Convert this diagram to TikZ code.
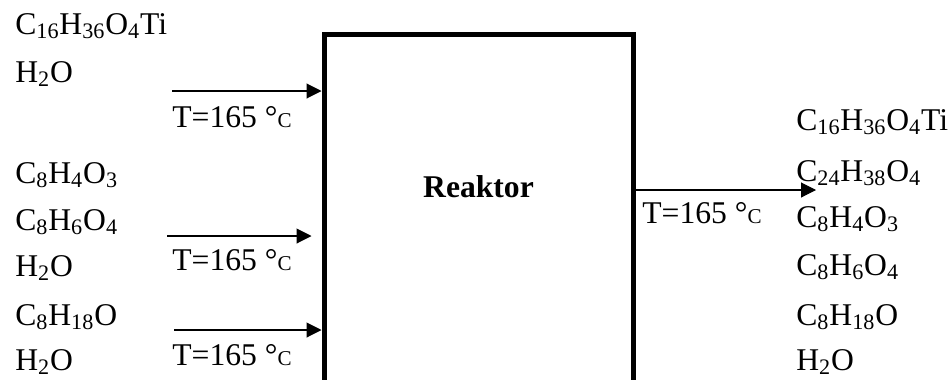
\documentclass[tikz,border=0pt]{standalone}
\usepackage{fontspec}
\setmainfont{Liberation Serif}
\usetikzlibrary{positioning}
\usetikzlibrary{arrows.meta}

\newcommand{\degC}{\textdegree{\fontsize{12}{12}\selectfont C}}

\begin{document}
\begin{tikzpicture}[
  stoff/.style={anchor=base west, inner sep=0pt, font=\fontsize{18}{21}\selectfont},
  temp/.style={anchor=base west, inner sep=0pt, font=\fontsize{18}{21}\selectfont},
  reaktor/.style={draw, line width=0.1cm, minimum width=6.18cm, minimum height=8cm, anchor=north},
  strom/.style={-{Triangle[length=0.3cm, width=0.3cm]}, line width=0.6pt}
]
\useasboundingbox (0,0) rectangle (19,7.58);

% Reaktor (open at the bottom, cut by the picture edge)
\node[reaktor] (R) at (9.57,6.95) {};
\node[anchor=base, inner sep=0pt, font=\fontsize{18}{21}\selectfont\bfseries] (lbl) at (9.57,3.64) {Reaktor};

% Feed 1
\node[stoff] (f1a) at (0.30,6.90) {C\textsubscript{16}H\textsubscript{36}O\textsubscript{4}Ti};
\node[stoff] (f1b) at (0.30,5.94) {H\textsubscript{2}O};

% Feed 2
\node[stoff] (f2a) at (0.30,3.92) {C\textsubscript{8}H\textsubscript{4}O\textsubscript{3}};
\node[stoff] (f2b) at (0.30,2.98) {C\textsubscript{8}H\textsubscript{6}O\textsubscript{4}};
\node[stoff] (f2c) at (0.30,2.06) {H\textsubscript{2}O};

% Feed 3
\node[stoff] (f3a) at (0.30,1.08) {C\textsubscript{8}H\textsubscript{18}O};
\node[stoff] (f3b) at (0.30,0.18) {H\textsubscript{2}O};

% Product
\node[stoff] (p1) at (15.92,4.98) {C\textsubscript{16}H\textsubscript{36}O\textsubscript{4}Ti};
\node[stoff] (p2) at (15.92,3.96) {C\textsubscript{24}H\textsubscript{38}O\textsubscript{4}};
\node[stoff] (p3) at (15.92,3.04) {C\textsubscript{8}H\textsubscript{4}O\textsubscript{3}};
\node[stoff] (p4) at (15.92,2.08) {C\textsubscript{8}H\textsubscript{6}O\textsubscript{4}};
\node[stoff] (p5) at (15.92,1.08) {C\textsubscript{8}H\textsubscript{18}O};
\node[stoff] (p6) at (15.92,0.18) {H\textsubscript{2}O};

% Temperatures
\node[temp] (t1) at (3.44,5.04) {T=165 \degC};
\node[temp] (t2) at (3.44,2.18) {T=165 \degC};
\node[temp] (t3) at (3.44,0.28) {T=165 \degC};
\node[temp] (t4) at (12.84,3.12) {T=165 \degC};

% Streams
\coordinate (in1) at (3.44,5.76);
\coordinate (in2) at (3.34,2.86);
\coordinate (in3) at (3.48,0.98);
\coordinate (out) at (16.32,3.78);

\draw[strom] (in1) -- (in1 -| R.west);
\draw[strom, shorten >=0.2cm] (in2) -- (in2 -| R.west);
\draw[strom] (in3) -- (in3 -| R.west);
\draw[strom] (out -| R.east) -- (out);

\end{tikzpicture}
\end{document}
